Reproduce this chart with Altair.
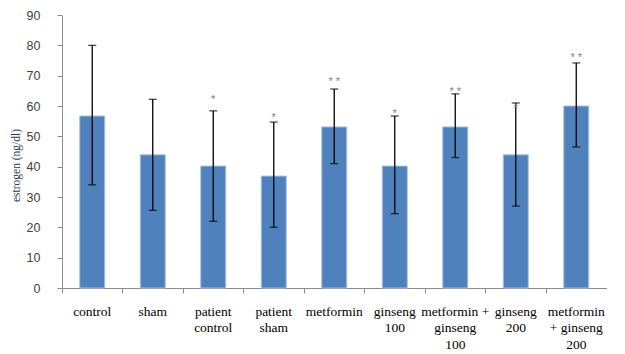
import altair as alt
import pandas as pd

# Groups, mean estrogen (ng/dl), error-bar ends and significance marks
groups = ["control", "sham", "patient control", "patient sham", "metformin",
          "ginseng 100", "metformin + ginseng 100", "ginseng 200",
          "metformin + ginseng 200"]
label_lines = ["control", "sham", "patient|control", "patient|sham", "metformin",
               "ginseng|100", "metformin +|ginseng|100", "ginseng|200",
               "metformin|+ ginseng|200"]
means = [56.7, 43.9, 40.2, 36.9, 53.1, 40.2, 53.1, 43.9, 60.0]
err_hi = [80.0, 62.2, 58.4, 54.7, 65.6, 56.7, 64.0, 61.0, 74.2]
err_lo = [34.0, 25.6, 22.0, 20.0, 41.0, 24.5, 43.0, 27.0, 46.5]
stars = ["", "", "*", "*", "* *", "*", "* *", "*", "* *"]
star_y = [0, 0, 62.0, 56.0, 68.0, 57.5, 64.5, 59.0, 75.7]
y_ticks = [0, 10, 20, 30, 40, 50, 60, 70, 80, 90]

df = pd.DataFrame({
    "group": groups, "mean": means,
    "hi": err_hi, "lo": err_lo, "star": stars, "star_y": star_y,
})

# multi-line category labels, split on "|"
label_map = dict(zip(groups, label_lines))
expr = "split(" + " : ".join(
    [f"datum.label == '{g}' ? '{l}'" for g, l in label_map.items()]
) + " : datum.label, '|')"

SERIF = "Liberation Serif"
SANS = "Liberation Sans"

x_scale = alt.Scale(paddingInner=0, paddingOuter=0)
x_axis = alt.Axis(labelExpr=expr, labelAngle=0, bandPosition=0,
                  labelOverlap=False, grid=False,
                  labelFont=SERIF, labelFontSize=13.5, labelFontWeight="normal",
                  labelColor="#000000", labelPadding=11, labelLineHeight=16.5,
                  labelBaseline="top", labelAlign="center")
y_scale = alt.Scale(domain=[0, 90], nice=False)
y_axis = alt.Axis(values=y_ticks, grid=False, labelOverlap=False,
                  labelFont=SANS, labelFontSize=12.5, labelColor="#404040",
                  labelPadding=17, titleFont=SERIF, titleFontSize=11.5,
                  titleFontWeight="normal", titleColor="#1f3864",
                  titleX=-41, titleY=150, titleAngle=270)
y_title = "estrogen  (ng/dl)"


def xenc():
    return alt.X("group:N", sort=groups, title=None, scale=x_scale, axis=x_axis)


def yenc(field):
    return alt.Y(field, scale=y_scale, axis=y_axis, title=y_title)


base = alt.Chart(df)

bars = base.mark_bar(size=25, color="#4f81bd", stroke="#a9c1e0",
                     strokeWidth=1).encode(x=xenc(), y=yenc("mean:Q"))

rules = base.mark_rule(color="#000000", strokeWidth=1.3).encode(
    x=xenc(), y=yenc("lo:Q"), y2="hi:Q")
cap_hi = base.mark_tick(color="#000000", size=8, thickness=1.3,
                        orient="horizontal").encode(x=xenc(), y=yenc("hi:Q"))
cap_lo = base.mark_tick(color="#000000", size=8, thickness=1.3,
                        orient="horizontal").encode(x=xenc(), y=yenc("lo:Q"))

star_text = base.transform_filter("datum.star != ''").mark_text(
    font=SANS, fontSize=11, color="#7f7f7f", baseline="middle"
).encode(x=xenc(), y=yenc("star_y:Q"), text="star:N")

chart = alt.layer(bars, rules, cap_hi, cap_lo, star_text).properties(
    width=544.5, height=273,
    background="#ffffff",
    autosize=alt.AutoSizeParams(type="none"),
    padding={"left": 62, "top": 15, "right": 18.5, "bottom": 66},
).configure_view(
    strokeWidth=0, stroke="transparent"
).configure_axis(
    tickSize=5, tickColor="#8c8c8c", domainColor="#8c8c8c", grid=False
)

chart.save("out.html", embed_options={"renderer": "svg", "actions": False})
